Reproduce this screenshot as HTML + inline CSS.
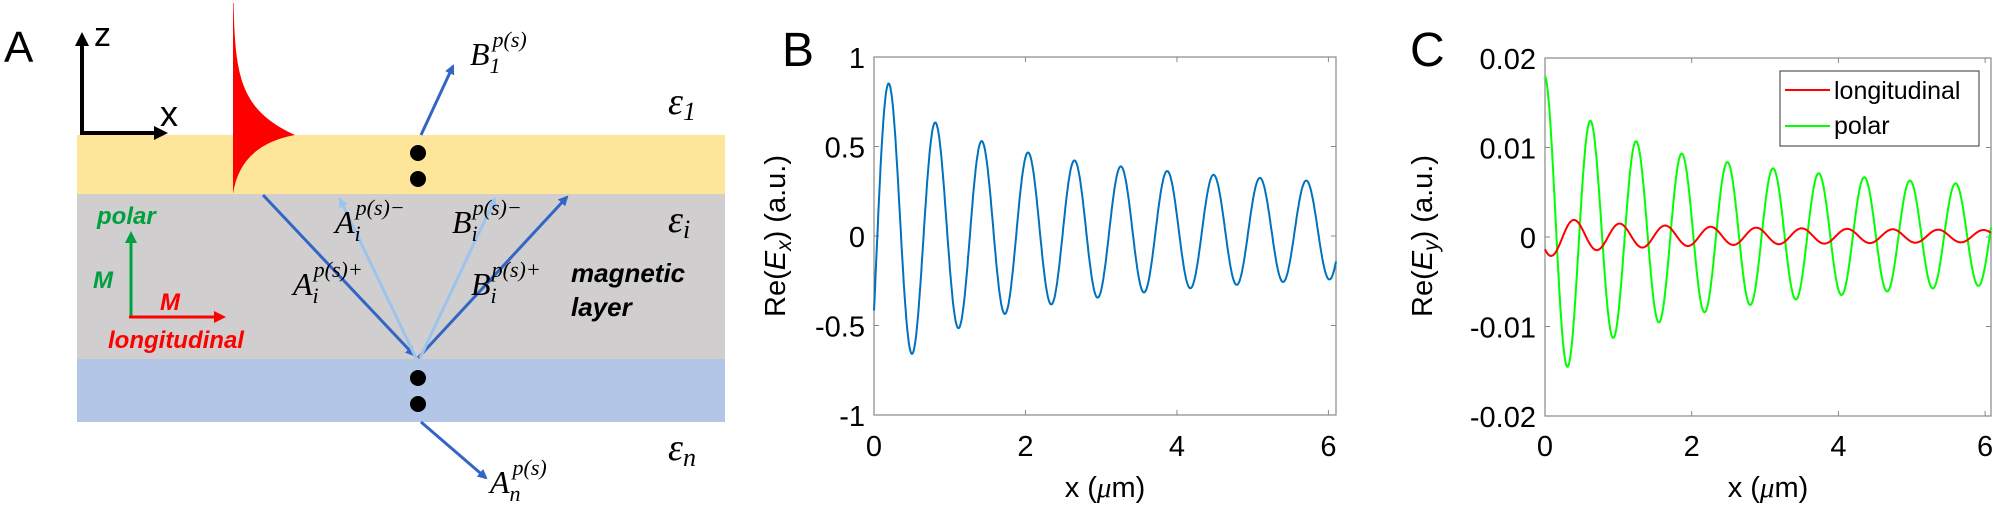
<!DOCTYPE html>
<html><head><meta charset="utf-8">
<style>
html,body{margin:0;padding:0;background:#fff;}
svg{display:block;}
text{font-family:"Liberation Sans",sans-serif;}
.t{font-family:"Liberation Serif",serif;font-style:italic;}
</style></head>
<body>
<svg id="s" width="1993" height="511" viewBox="0 0 1993 511" xmlns="http://www.w3.org/2000/svg">
<defs>
<marker id="ab" markerWidth="10" markerHeight="10" refX="8" refY="5" orient="auto" markerUnits="userSpaceOnUse"><path d="M0,0 L10,5 L0,10 z" fill="#3366c4"/></marker>
<marker id="alb" markerWidth="10" markerHeight="10" refX="8" refY="5" orient="auto" markerUnits="userSpaceOnUse"><path d="M0,0 L10,5 L0,10 z" fill="#9cc4ec"/></marker>
<marker id="ak" markerWidth="14" markerHeight="14" refX="10" refY="7" orient="auto" markerUnits="userSpaceOnUse"><path d="M0,0 L14,7 L0,14 z" fill="#000"/></marker>
<marker id="ag" markerWidth="12" markerHeight="12" refX="9" refY="6" orient="auto" markerUnits="userSpaceOnUse"><path d="M0,0 L12,6 L0,12 z" fill="#00a040"/></marker>
<marker id="ar" markerWidth="12" markerHeight="12" refX="9" refY="6" orient="auto" markerUnits="userSpaceOnUse"><path d="M0,0 L12,6 L0,12 z" fill="#ff0000"/></marker>
</defs>
<!-- Panel A -->
<text x="4" y="62" font-size="44">A</text>
<rect x="77" y="135" width="648" height="59" fill="#fde69a"/>
<rect x="77" y="194" width="648" height="165" fill="#d0cece"/>
<rect x="77" y="359" width="648" height="63" fill="#b4c6e6"/>
<line x1="82" y1="134" x2="82" y2="36" stroke="#000" stroke-width="4" marker-end="url(#ak)"/>
<line x1="80" y1="133" x2="164" y2="133" stroke="#000" stroke-width="4" marker-end="url(#ak)"/>
<text x="94" y="46" font-size="34">z</text>
<text x="160" y="126" font-size="36">x</text>
<path id="red" fill="#ff0000"/>
<line x1="263" y1="195" x2="414" y2="355" stroke="#3366c4" stroke-width="3" marker-end="url(#ab)"/>
<line x1="418" y1="358" x2="567" y2="197" stroke="#3366c4" stroke-width="3" marker-end="url(#ab)"/>
<line x1="416" y1="358" x2="340" y2="199" stroke="#9cc4ec" stroke-width="3" marker-end="url(#alb)"/>
<line x1="420" y1="358" x2="495" y2="199" stroke="#9cc4ec" stroke-width="3" marker-end="url(#alb)"/>
<line x1="421" y1="135" x2="453" y2="66" stroke="#3366c4" stroke-width="3" marker-end="url(#ab)"/>
<line x1="421" y1="422" x2="486" y2="478" stroke="#3366c4" stroke-width="3" marker-end="url(#ab)"/>
<circle cx="418" cy="153" r="8"/><circle cx="418" cy="179" r="8"/>
<circle cx="418" cy="378" r="8"/><circle cx="418" cy="404" r="8"/>
<text class="t" x="470" y="65" font-size="32">B<tspan font-size="22" dy="8">1</tspan><tspan font-size="22" dx="-8" dy="-26">p(s)</tspan></text>
<text class="t" x="335" y="233" font-size="32">A<tspan font-size="22" dy="8">i</tspan><tspan font-size="22" dx="-5" dy="-26">p(s)−</tspan></text>
<text class="t" x="452" y="233" font-size="32">B<tspan font-size="22" dy="8">i</tspan><tspan font-size="22" dx="-5" dy="-26">p(s)−</tspan></text>
<text class="t" x="293" y="295" font-size="32">A<tspan font-size="22" dy="8">i</tspan><tspan font-size="22" dx="-5" dy="-26">p(s)+</tspan></text>
<text class="t" x="471" y="295" font-size="32">B<tspan font-size="22" dy="8">i</tspan><tspan font-size="22" dx="-5" dy="-26">p(s)+</tspan></text>
<text class="t" x="490" y="493" font-size="32">A<tspan font-size="22" dy="8">n</tspan><tspan font-size="22" dx="-8" dy="-26">p(s)</tspan></text>
<text class="t" x="668" y="114" font-size="38">ε<tspan font-size="26" dy="6">1</tspan></text>
<text class="t" x="668" y="232" font-size="38">ε<tspan font-size="26" dy="6">i</tspan></text>
<text class="t" x="668" y="460" font-size="38">ε<tspan font-size="26" dy="6">n</tspan></text>
<text x="571" y="282" font-size="26" font-weight="bold" font-style="italic">magnetic</text>
<text x="571" y="316" font-size="26" font-weight="bold" font-style="italic">layer</text>
<text x="97" y="224" font-size="24" font-weight="bold" font-style="italic" fill="#00a040">polar</text>
<text x="93" y="288" font-size="24" font-weight="bold" font-style="italic" fill="#00a040">M</text>
<line x1="131" y1="317" x2="131" y2="234" stroke="#00a040" stroke-width="3" marker-end="url(#ag)"/>
<line x1="129" y1="317" x2="223" y2="317" stroke="#ff0000" stroke-width="3" marker-end="url(#ar)"/>
<text x="160" y="310" font-size="24" font-weight="bold" font-style="italic" fill="#ff0000">M</text>
<text x="108" y="348" font-size="24" font-weight="bold" font-style="italic" fill="#ff0000">longitudinal</text>

<!-- Panel B -->
<text x="782" y="66" font-size="48">B</text>
<rect x="874" y="57" width="462" height="358" fill="none" stroke="#888" stroke-width="1.2"/>
<g id="bt"></g>
<path id="pb" fill="none" stroke="#0072bd" stroke-width="2"/>
<text transform="translate(785,236) rotate(-90)" text-anchor="middle" font-size="29">Re(<tspan font-style="italic">E</tspan><tspan font-size="21" dy="6" font-style="italic">x</tspan><tspan dy="-6">) (a.u.)</tspan></text>
<text x="1105" y="497" text-anchor="middle" font-size="29">x (<tspan font-family="Liberation Serif" font-style="italic">μ</tspan>m)</text>

<!-- Panel C -->
<text x="1410" y="66" font-size="48">C</text>
<rect x="1545" y="58" width="446" height="358" fill="none" stroke="#888" stroke-width="1.2"/>
<g id="ct"></g>
<path id="pcg" fill="none" stroke="#00ff00" stroke-width="2"/>
<path id="pcr" fill="none" stroke="#ff0000" stroke-width="2"/>
<rect x="1780" y="71" width="199" height="75" fill="#fff" stroke="#333" stroke-width="1"/>
<line x1="1785" y1="90" x2="1830" y2="90" stroke="#ff0000" stroke-width="2"/>
<line x1="1785" y1="126" x2="1830" y2="126" stroke="#00ff00" stroke-width="2"/>
<text x="1834" y="99" font-size="25">longitudinal</text>
<text x="1834" y="134" font-size="25">polar</text>
<text transform="translate(1432,236) rotate(-90)" text-anchor="middle" font-size="29">Re(<tspan font-style="italic">E</tspan><tspan font-size="21" dy="6" font-style="italic">y</tspan><tspan dy="-6">) (a.u.)</tspan></text>
<text x="1768" y="497" text-anchor="middle" font-size="29">x (<tspan font-family="Liberation Serif" font-style="italic">μ</tspan>m)</text>
</svg>
<script>
(function(){
var NS="http://www.w3.org/2000/svg";
function el(p,n,a,t){var e=document.createElementNS(NS,n);for(var k in a)e.setAttribute(k,a[k]);if(t!=null)e.textContent=t;p.appendChild(e);return e;}
var d="M233,194 L233,3";
for(var y=3;y<=135;y+=2){var x=233+62*Math.exp(-(135-y)/28);d+=" L"+x.toFixed(1)+","+y;}
d+=" L295,135 Q240,145 233,194 Z";
document.getElementById("red").setAttribute("d",d);
function axis(g,x0,x1,y0,y1,xmax,ymin,ymax,yt,ylab){
  var sx=(x1-x0)/xmax;
  [0,2,4,6].forEach(function(v){var X=x0+v*sx;
    el(g,"line",{x1:X,y1:y1,x2:X,y2:y1-5,stroke:"#888"});
    el(g,"line",{x1:X,y1:y0,x2:X,y2:y0+5,stroke:"#888"});
    el(g,"text",{x:X,y:456,"text-anchor":"middle","font-size":"29"},String(v));});
  yt.forEach(function(v,i){var Y=y1-(v-ymin)/(ymax-ymin)*(y1-y0);
    el(g,"line",{x1:x0,y1:Y,x2:x0+5,y2:Y,stroke:"#888"});
    el(g,"line",{x1:x1,y1:Y,x2:x1-5,y2:Y,stroke:"#888"});
    el(g,"text",{x:x0-9,y:Y+11,"text-anchor":"end","font-size":"29"},ylab[i]);});
}
axis(document.getElementById("bt"),874,1336,57,415,6.1,-1,1,[-1,-0.5,0,0.5,1],["-1","-0.5","0","0.5","1"]);
axis(document.getElementById("ct"),1545,1991,58,416,6.08,-0.02,0.02,[-0.02,-0.01,0,0.01,0.02],["-0.02","-0.01","0","0.01","0.02"]);
function curve(id,x0,x1,xmax,y0,y1,ymin,ymax,f){
  var d="";for(var i=0;i<=1200;i++){var x=xmax*i/1200;var v=f(x);
    var X=x0+(x1-x0)*x/xmax,Y=y1-(v-ymin)/(ymax-ymin)*(y1-y0);
    d+=(i?"L":"M")+X.toFixed(1)+","+Y.toFixed(1);}
  document.getElementById(id).setAttribute("d",d);}
curve("pb",874,1336,6.1,57,415,-1,1,function(x){return 0.698/Math.sqrt(x+0.525)*Math.cos(2*Math.PI*(x-0.2)/0.612)+0.03;});
curve("pcg",1545,1991,6.08,58,416,-0.02,0.02,function(x){return 0.0145/Math.sqrt(x+0.665)*Math.cos(2*Math.PI*x/0.622)+0.0002;});
curve("pcr",1545,1991,6.08,58,416,-0.02,0.02,function(x){return 0.00174/Math.sqrt(x+0.53)*Math.cos(2*Math.PI*(x-0.4)/0.62)+0.0001;});
})();
</script>
</body></html>
